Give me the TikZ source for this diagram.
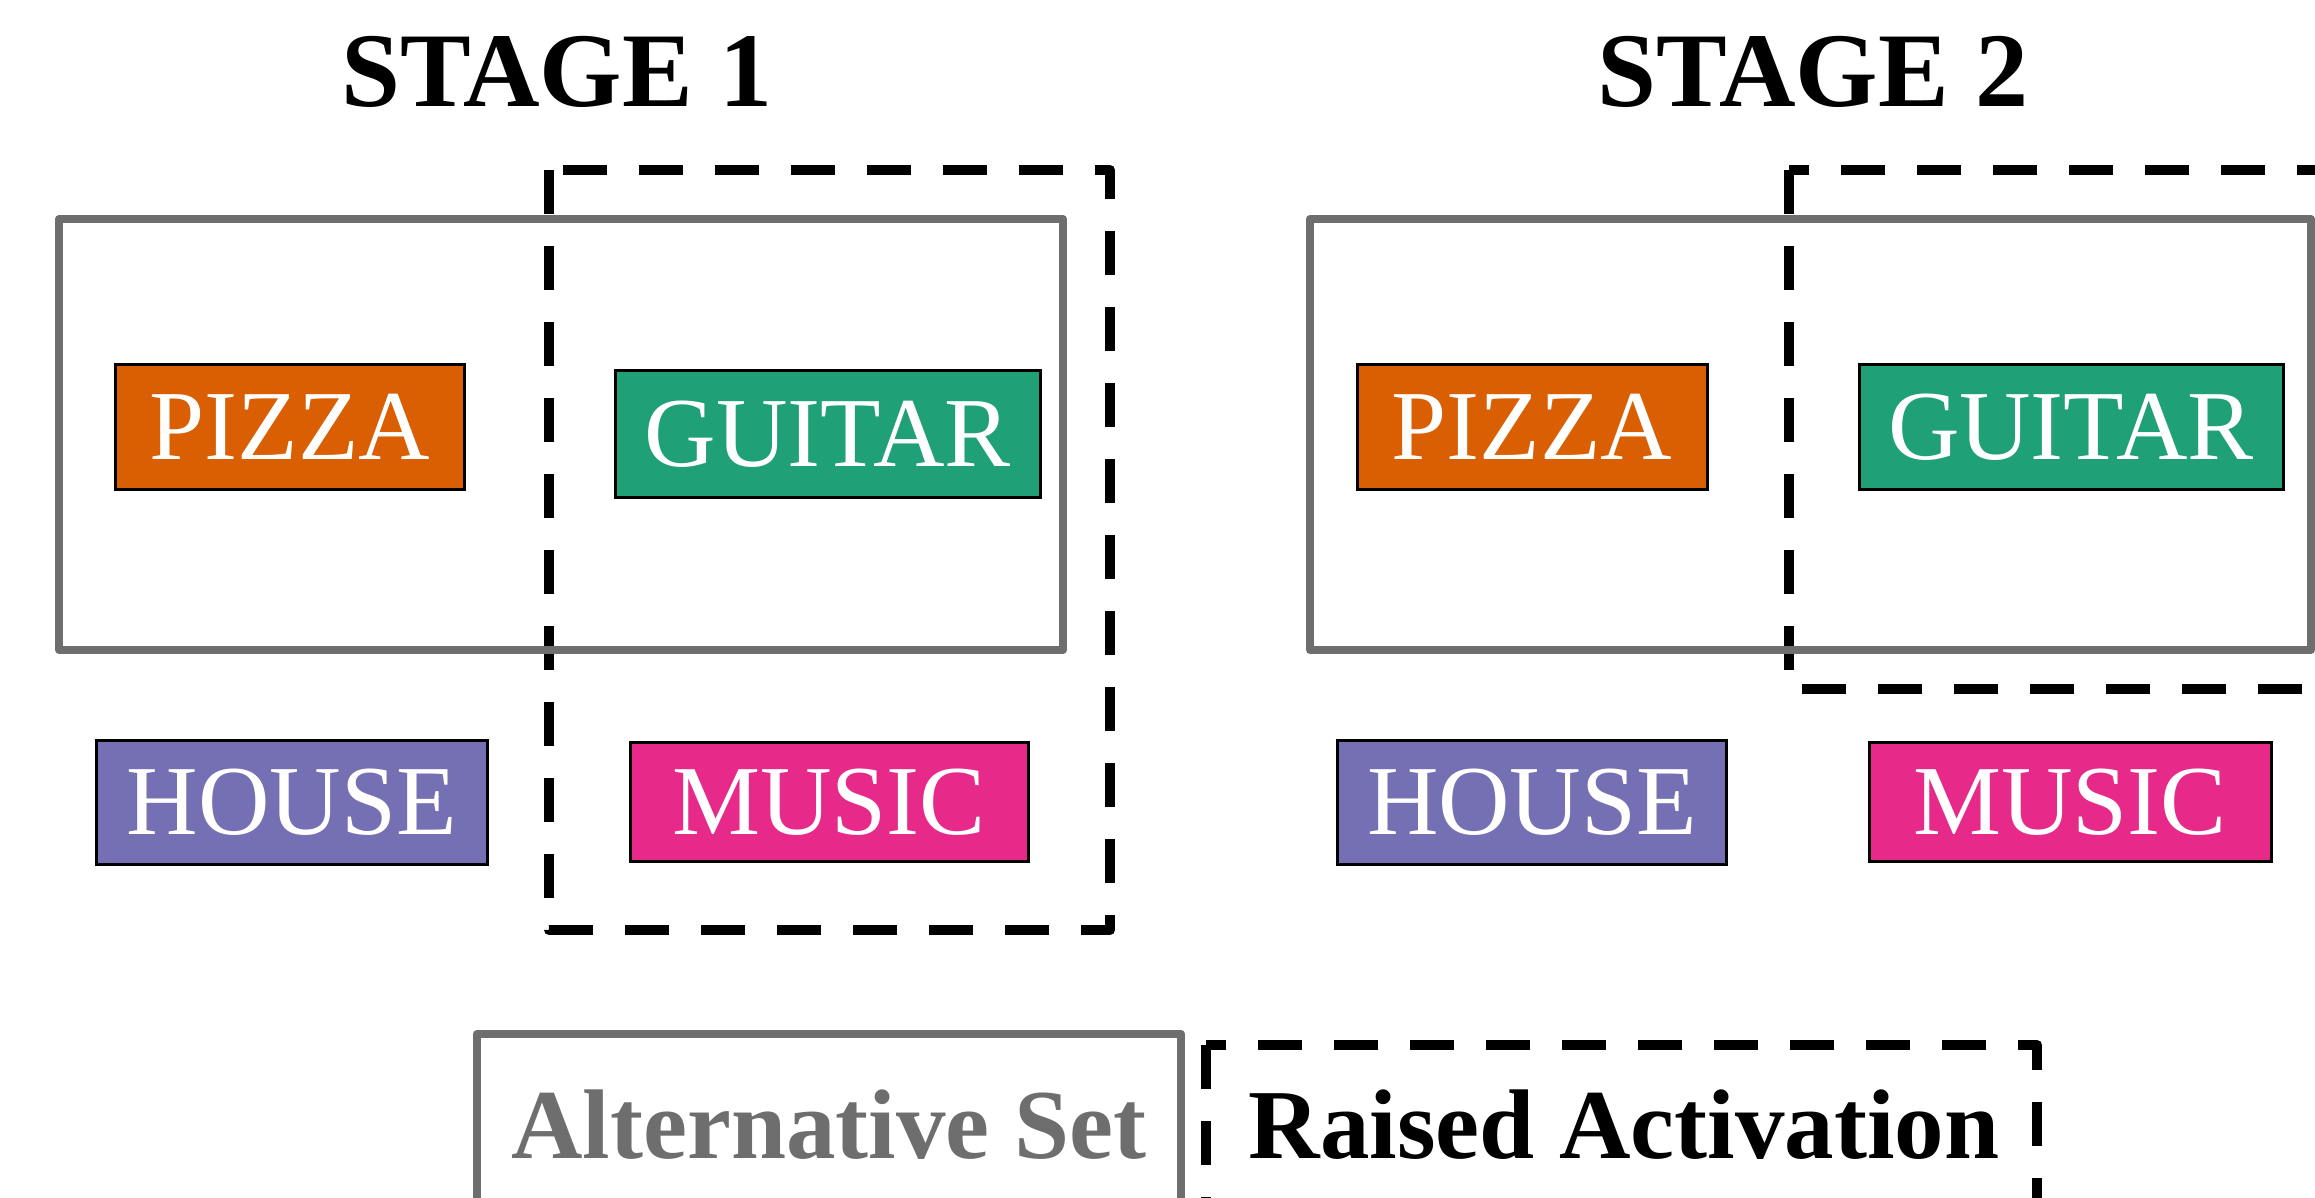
\documentclass[tikz,border=0pt]{standalone}
\usepackage{fontspec}
\setmainfont{Liberation Serif}
\definecolor{cpizza}{HTML}{D95F02}
\definecolor{cguitar}{HTML}{1FA077}
\definecolor{chouse}{HTML}{7570B3}
\definecolor{cmusic}{HTML}{E7298A}
\definecolor{setgray}{HTML}{6E6E6E}
\tikzset{
  word/.style={draw=black, line width=3pt, text=white, inner sep=0pt,
    font=\fontsize{99}{100}\selectfont},
  altset/.style={draw=setgray, line width=8pt, line join=round},
  raised/.style={draw=black, line width=10pt, dash pattern=on 44pt off 32pt, line join=round},
  titletext/.style={font=\bfseries\fontsize{106}{110}\selectfont, inner sep=0pt},
  legendtext/.style={font=\bfseries\fontsize{99}{105}\selectfont, inner sep=0pt},
}
\begin{document}
\begin{tikzpicture}[x=1pt,y=-1pt]
\useasboundingbox (0,0) rectangle (2315,1197);
\clip (0,0) rectangle (2315,1197);

% titles
\node[titletext] (t1) at (557,72) {STAGE 1};
\node[titletext] (t2) at (1813,72) {STAGE 2};

% stage 1 sets
\draw[raised] (549,170) rectangle (1110,930);
\draw[altset] (59,219) rectangle (1063,650);
% stage 2 sets
\draw[raised] (1789,170) rectangle (2420,689);
\draw[altset] (1310,219) rectangle (2311,650);

% stage 1 words
\node[word, fill=cpizza, minimum width=349pt, minimum height=125pt] (p1) at (290,427) {PIZZA};
\node[word, fill=cguitar, minimum width=425pt, minimum height=127pt] (g1) at (828,434) {GUITAR};
\node[word, fill=chouse, minimum width=391pt, minimum height=124pt] (h1) at (292,802) {HOUSE};
\node[word, fill=cmusic, minimum width=398pt, minimum height=119pt] (m1) at (829,802) {MUSIC};

% stage 2 words
\node[word, fill=cpizza, minimum width=350pt, minimum height=125pt] (p2) at (1532,427) {PIZZA};
\node[word, fill=cguitar, minimum width=424pt, minimum height=125pt] (g2) at (2071,427) {GUITAR};
\node[word, fill=chouse, minimum width=389pt, minimum height=124pt] (h2) at (1532,802) {HOUSE};
\node[word, fill=cmusic, minimum width=402pt, minimum height=119pt] (m2) at (2070,802) {MUSIC};

% legend
\draw[altset] (477,1034) rectangle (1181,1250);
\draw[raised] (1206,1045) rectangle (2037,1250);
\node[legendtext, text=setgray] (la) at (829,1125) {Alternative Set};
\node[legendtext, text=black] (lr) at (1624,1125) {Raised Activation};
\end{tikzpicture}
\end{document}
